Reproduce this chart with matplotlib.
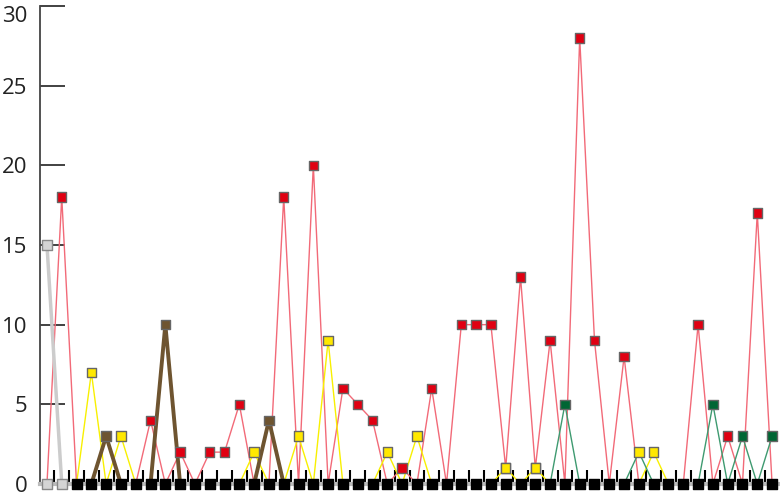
import numpy as np
import matplotlib.pyplot as plt

# valores por posicao (50 pontos)
red = [0, 18, 0, 0, 0, 0, 0, 4, 0, 2,
       0, 2, 2, 5, 0, 0, 18, 0, 20, 0,
       6, 5, 4, 0, 1, 0, 6, 0, 10, 10,
       10, 1, 13, 1, 9, 0, 28, 9, 0, 8,
       0, 0, 0, 0, 10, 0, 3, 0, 17, 0]
yellow = [0, 0, 0, 7, 0, 3, 0, 0, 0, 0,
          0, 0, 0, 0, 2, 0, 0, 3, 0, 9,
          0, 0, 0, 2, 0, 3, 0, 0, 0, 0,
          0, 1, 0, 1, 0, 0, 0, 0, 0, 0,
          0, 2, 0, 0, 0, 0, 0, 0, 0, 0]
brown = [0, 0, 0, 0, 3, 0, 0, 0, 10, 0,
         0, 0, 0, 0, 0, 4, 0, 0, 0, 0,
         0, 0, 0, 0, 0, 0, 0, 0, 0, 0,
         0, 0, 0, 0, 0, 0, 0, 0, 0, 0,
         0, 0, 0, 0, 0, 0, 0, 0, 0, 0]
green = [0, 0, 0, 0, 0, 0, 0, 0, 0, 0,
         0, 0, 0, 0, 0, 0, 0, 0, 0, 0,
         0, 0, 0, 0, 0, 0, 0, 0, 0, 0,
         0, 0, 0, 0, 0, 5, 0, 0, 0, 0,
         2, 0, 0, 0, 0, 5, 0, 3, 0, 3]
gray = [15, 0]

y_ticks = [0, 5, 10, 15, 20, 25, 30]

# (valores, cor da linha, cor do marcador, espessura)
series = [
    (red, "#f26a78", "#e00012", 1.0),
    (yellow, "#f8f000", "#ffe800", 1.0),
    (brown, "#6e5430", "#6e5430", 2.8),
    (green, "#3e9a70", "#006634", 1.0),
]

n = len(red)
x = np.arange(n)

fig = plt.figure(figsize=(7.8, 5.04), dpi=100)
ax = fig.add_axes([40 / 780, 20 / 504, 738 / 780, 478 / 504])

for vals, lc, mc, lw in series:
    ax.plot(x, vals, color=lc, lw=lw, zorder=2)

# linha cinza (so dois pontos)
ax.plot(np.arange(len(gray)), gray, color="#cccccc", lw=2.5, zorder=2)

# marcadores: cor da serie com valor > 0 em cada ponto
mk_x, mk_y, mk_c = [], [], []
for vals, lc, mc, lw in series:
    for i, v in enumerate(vals):
        if v > 0:
            mk_x.append(i)
            mk_y.append(v)
            mk_c.append(mc)
mk_c[[j for j in range(len(mk_x)) if mk_x[j] == 40][0]] = "#ffe800"
ax.scatter(mk_x, mk_y, marker="s", s=46, c=mk_c, edgecolors="#666666",
           linewidths=1.0, zorder=4, clip_on=False)

# cinza
ax.scatter([0], gray[:1], marker="s", s=46,
           c="#d4d4d4", edgecolors="#888888", linewidths=1.0, zorder=5,
           clip_on=False)
# zeros: cinza nos primeiros pontos, preto no resto
ax.scatter(x[:len(gray)], [0] * len(gray), marker="s", s=46,
           c="#d4d4d4", edgecolors="#888888", linewidths=1.0, zorder=5,
           clip_on=False)
ax.scatter(x[len(gray):], [0] * (n - len(gray)), marker="s", s=48,
           c="black", zorder=5, clip_on=False)

ax.set_xlim(-0.47, 49.4)
ax.set_ylim(0, 30)

for s in ["top", "right"]:
    ax.spines[s].set_visible(False)
ax.spines["bottom"].set_color("#bbbbbb")
ax.spines["bottom"].set_linewidth(3)
ax.spines["bottom"].set_zorder(3)
ax.spines["left"].set_color("#444444")
ax.spines["left"].set_linewidth(1.3)

ax.set_yticks(y_ticks)
ax.set_yticklabels([str(t) for t in y_ticks], fontsize=16, family="Open Sans",
                   color="#222222")
ax.get_yticklabels()[-1].set_va("top")
ax.tick_params(axis="y", direction="in", length=18, width=1.3, color="#333333", pad=9)

ax.set_xticks(x[:-1] + 0.5)
ax.set_xticklabels([])
ax.tick_params(axis="x", direction="in", length=10, width=1.5)
for k, t in enumerate(ax.xaxis.get_major_ticks()):
    t.tick1line.set_color("black" if k % 2 == 0 else "#888888")

fig.savefig("out.png", dpi=100)
